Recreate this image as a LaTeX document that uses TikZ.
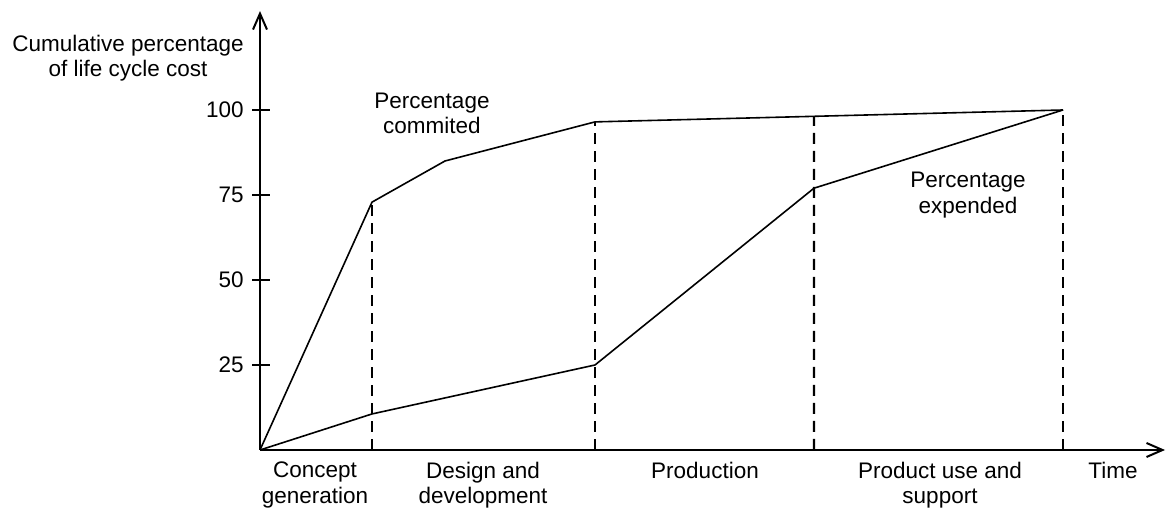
\documentclass[tikz,border=0pt]{standalone}
\usepackage{fontspec}
\setmainfont{Liberation Sans}
\usetikzlibrary{arrows.meta,calc}

\begin{document}
\begin{tikzpicture}[x=0.5pt, y=1.7pt, font=\fontsize{11.25}{12.8}\selectfont,
    axis/.style={line width=1pt, -{Straight Barb[length=8pt,width=7pt]}},
    cost/.style={line width=0.8pt, line join=round},
    phase/.style={line width=1.2pt, dash pattern=on 5.5pt off 3.5pt},
    lbl/.style={anchor=north, inner sep=0pt, align=center}]
    \useasboundingbox (-260,-17.94) rectangle (906,132.35);

    % axes
    \coordinate (O) at (0,0);
    \coordinate (ytop) at (0,129.1);
    \coordinate (xend) at (905,0);
    \draw[axis] (O) -- (ytop);
    \draw[axis] (O) -- (xend);
    \foreach \v in {25,50,75,100} {
        \draw[line width=1pt] (-8,\v) -- (10,\v);
        \node[anchor=east, inner sep=0pt] (tick\v) at (-16,\v) {\v};
    }
    \node[lbl] (ylabel) at (-132,122.2) {Cumulative percentage\\of life cycle cost};

    % percentage commited / expended
    \coordinate (c1) at (112,72.9);
    \coordinate (c2) at (185,85);
    \coordinate (c3) at (335,96.5);
    \coordinate (c4) at (803,100);
    \coordinate (e1) at (112,10.6);
    \coordinate (e2) at (335,25);
    \coordinate (e3) at (554,77);
    \draw[cost] (O) -- (c1) -- (c2) -- (c3) -- (c4);
    \draw[cost] (O) -- (e1) -- (e2) -- (e3) -- (c4);

    % phase borders
    \coordinate (p1) at (112,0);
    \coordinate (p2) at (335,0);
    \coordinate (p3) at (554,0);
    \coordinate (p4) at (803,0);
    \draw[phase] (p1) -- (c1);
    \draw[phase] (p2) -- (c3);
    \draw[phase] (p3) -- ($(c3)!0.468!(c4)$);
    \draw[phase] (p4) -- (c4);

    \node[lbl] (commited) at (172,105.2) {Percentage\\commited};
    \node[lbl] (expended) at (708,81.9) {Percentage\\expended};

    \node[lbl] (concept) at (55,-3.4) {Concept\\generation};
    \node[lbl] (design) at (223,-3.4) {Design and\\development};
    \node[lbl] (production) at (445,-3.4) {Production};
    \node[lbl] (use) at (680,-3.4) {Product use and\\support};
    \node[lbl] (time) at (853,-3.4) {Time};
\end{tikzpicture}
\end{document}
